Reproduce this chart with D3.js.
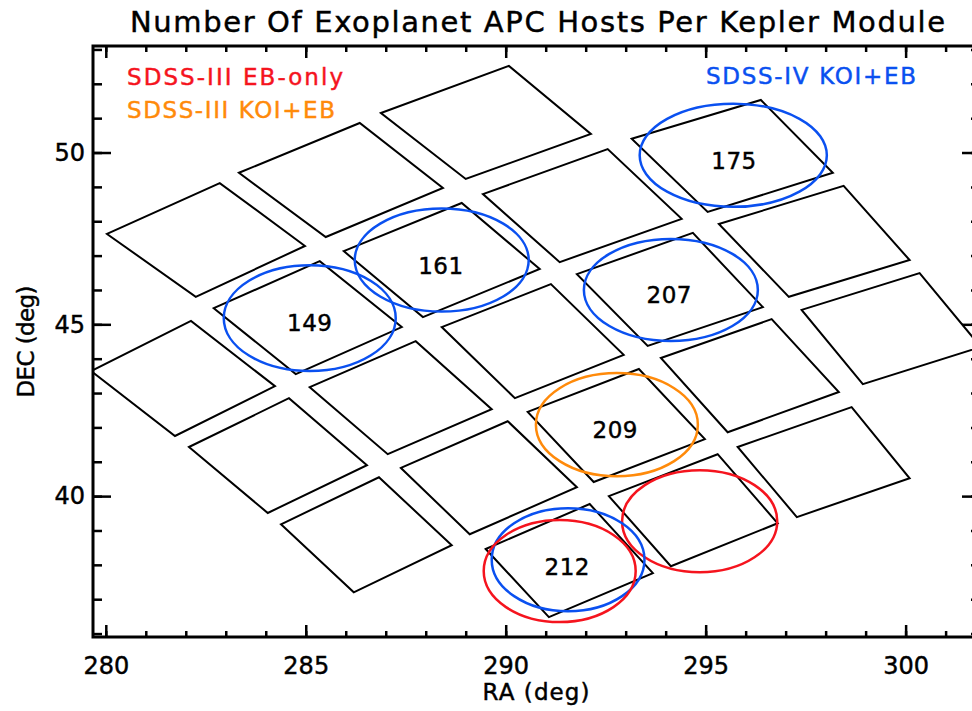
<!DOCTYPE html>
<html>
<head>
<meta charset="utf-8">
<script src="https://cdn.jsdelivr.net/npm/d3@7"></script>
<style>
  body { margin: 0; background: #fff; }
  text { font-family: "DejaVu Sans", sans-serif; fill: #000; stroke-width: 0.45; }
  .tick line { stroke: #000; stroke-width: 2.5; }
  .domain { display: none; }
</style>
</head>
<body>
<svg id="chart" width="972" height="711"></svg>
<script>
// Kepler module outlines: four corners each (left, top, right, bottom), RA / Dec in degrees
var moduleRA = [
  [280.03, 282.85, 284.98, 282.25],
  [283.33, 286.35, 288.43, 285.50],
  [286.88, 290.08, 292.13, 289.00],
  [279.63, 282.13, 284.23, 281.73],
  [282.70, 285.35, 287.40, 284.75],
  [285.95, 288.90, 290.85, 287.93],
  [289.43, 292.55, 294.40, 291.35],
  [293.15, 296.38, 298.18, 295.05],
  [282.08, 284.58, 286.53, 284.05],
  [285.10, 287.75, 289.65, 287.05],
  [288.40, 291.13, 292.95, 290.23],
  [291.78, 294.68, 296.43, 293.55],
  [295.33, 298.45, 300.10, 297.08],
  [284.38, 286.83, 288.65, 286.20],
  [287.38, 290.05, 291.78, 289.10],
  [290.55, 293.33, 294.98, 292.20],
  [293.88, 296.65, 298.33, 295.55],
  [297.40, 300.35, 301.88, 298.93],
  [289.50, 292.10, 293.68, 291.08],
  [292.58, 295.30, 296.80, 294.13],
  [295.80, 298.65, 300.10, 297.28]
];
var moduleDec = [
  [47.63, 49.11, 47.28, 45.80],
  [49.41, 50.86, 48.97, 47.54],
  [51.15, 52.52, 50.54, 49.23],
  [43.64, 45.10, 43.20, 41.75],
  [45.47, 46.84, 44.92, 43.55],
  [47.13, 48.53, 46.61, 45.21],
  [48.79, 50.10, 48.07, 46.81],
  [50.40, 51.53, 49.41, 48.27],
  [41.43, 42.85, 40.90, 39.51],
  [43.17, 44.51, 42.53, 41.22],
  [44.92, 46.17, 44.11, 42.85],
  [46.46, 47.66, 45.50, 44.37],
  [47.92, 49.03, 46.87, 45.80],
  [39.18, 40.55, 38.57, 37.20],
  [40.82, 42.18, 40.26, 38.89],
  [42.45, 43.70, 41.66, 40.41],
  [44.02, 45.15, 43.03, 41.86],
  [45.42, 46.49, 44.34, 43.26],
  [38.46, 39.77, 37.76, 36.48],
  [40.00, 41.22, 39.21, 37.96],
  [41.43, 42.59, 40.52, 39.39]
];

// survey fields drawn as ellipses (centre and semi-axes in degrees)
var fieldSurvey = ["IV", "IV", "IV", "IV", "III-KOI", "III-EB", "IV", "III-EB"];
var fieldRA     = [285.10, 288.40, 295.69, 294.13, 292.78, 294.85, 291.56, 291.35];
var fieldDec    = [45.18, 46.87, 49.92, 46.00, 42.08, 39.27, 38.15, 37.82];
var fieldRadRA  = [2.15, 2.175, 2.34, 2.175, 2.025, 1.94, 1.91, 1.90];
var fieldRadDec = [1.54, 1.50, 1.50, 1.485, 1.50, 1.485, 1.50, 1.485];

// host counts per module
var hostCounts = [149, 161, 175, 207, 209, 212];
var countRA    = [285.10, 288.38, 295.71, 294.09, 292.74, 291.54];
var countDec   = [45.04, 46.71, 49.76, 45.85, 41.92, 37.95];

var legendNames = ["SDSS-III EB-only", "SDSS-III KOI+EB", "SDSS-IV KOI+EB"];
var legendKeys  = ["III-EB", "III-KOI", "IV"];

var xMajorTicks = [280, 285, 290, 295, 300];
var yMajorTicks = [40, 45, 50];

var surveyColor = { "III-EB": "#f5141e", "III-KOI": "#ff8a0a", "IV": "#0a50f0" };

var plot = { left: 93, right: 980, top: 46, bottom: 637 };

var svg = d3.select("#chart");

var x = d3.scaleLinear().domain([279.68, 301.86]).range([plot.left, plot.right]);
var y = d3.scaleLinear().domain([35.9, 53.1]).range([plot.bottom, plot.top]);

svg.append("rect").attr("width", 972).attr("height", 711).attr("fill", "#fff");

svg.append("clipPath").attr("id", "clip")
  .append("rect")
    .attr("x", plot.left).attr("y", plot.top)
    .attr("width", plot.right - plot.left).attr("height", plot.bottom - plot.top);

var inner = svg.append("g").attr("clip-path", "url(#clip)");

// modules
var line = d3.line().x(function(d) { return x(d[0]); }).y(function(d) { return y(d[1]); });
var modules = moduleRA.map(function(ras, i) {
  return ras.map(function(ra, j) { return [ra, moduleDec[i][j]]; });
});
inner.selectAll("path.module").data(modules)
  .enter().append("path")
    .attr("class", "module")
    .attr("d", function(d) { return line(d) + "Z"; })
    .attr("fill", "none")
    .attr("stroke", "#000")
    .attr("stroke-width", 2)
    .attr("stroke-linejoin", "miter");

// host counts
svg.selectAll("text.count").data(hostCounts)
  .enter().append("text")
    .attr("class", "count")
    .attr("x", function(d, i) { return x(countRA[i]); })
    .attr("y", function(d, i) { return y(countDec[i]); })
    .attr("dy", "0.36em")
    .attr("text-anchor", "middle")
    .attr("font-size", 23)
    .attr("letter-spacing", 0.5)
    .style("stroke", "#000")
    .text(function(d) { return d; });

// survey ellipses
inner.selectAll("ellipse.field").data(fieldRA)
  .enter().append("ellipse")
    .attr("class", "field")
    .attr("cx", function(d) { return x(d); })
    .attr("cy", function(d, i) { return y(fieldDec[i]); })
    .attr("rx", function(d, i) { return x(d + fieldRadRA[i]) - x(d); })
    .attr("ry", function(d, i) { return y(fieldDec[i]) - y(fieldDec[i] + fieldRadDec[i]); })
    .attr("fill", "none")
    .attr("stroke", function(d, i) { return surveyColor[fieldSurvey[i]]; })
    .attr("stroke-width", 2.5);

// axes, ticks pointing inward on all four sides
function addAxis(axis, tx, ty) {
  return svg.append("g").attr("transform", "translate(" + tx + "," + ty + ")").call(axis);
}
var xMinor = d3.range(280, 302, 1), yMinor = d3.range(36, 54, 1);

addAxis(d3.axisBottom(x).tickValues(xMinor).tickSize(-6).tickFormat(""), 0, plot.bottom);
addAxis(d3.axisBottom(x).tickValues(xMajorTicks).tickSize(-12).tickPadding(20)
  .tickFormat(d3.format("d")), 0, plot.bottom)
  .selectAll("text").attr("font-size", 24).attr("fill", "#000").style("stroke", "#000");
addAxis(d3.axisTop(x).tickValues(xMinor).tickSize(-6).tickFormat(""), 0, plot.top);
addAxis(d3.axisTop(x).tickValues(xMajorTicks).tickSize(-12).tickFormat(""), 0, plot.top);

addAxis(d3.axisLeft(y).tickValues(yMinor).tickSize(-9).tickFormat(""), plot.left, 0);
addAxis(d3.axisLeft(y).tickValues(yMajorTicks).tickSize(-18).tickPadding(8)
  .tickFormat(d3.format("d")), plot.left, 0)
  .selectAll("text").attr("font-size", 24).attr("fill", "#000").style("stroke", "#000");
addAxis(d3.axisRight(y).tickValues(yMinor).tickSize(-9).tickFormat(""), plot.right, 0);
addAxis(d3.axisRight(y).tickValues(yMajorTicks).tickSize(-18).tickFormat(""), plot.right, 0);

svg.append("rect")
  .attr("x", plot.left).attr("y", plot.top)
  .attr("width", plot.right - plot.left).attr("height", plot.bottom - plot.top)
  .attr("fill", "none").attr("stroke", "#000").attr("stroke-width", 3);

// titles
svg.append("text")
  .attr("x", 537.5).attr("y", 32)
  .attr("text-anchor", "middle")
  .attr("font-size", 29)
  .attr("textLength", 815).attr("lengthAdjust", "spacing")
  .style("stroke", "#000")
  .text("Number Of Exoplanet APC Hosts Per Kepler Module");

svg.append("text")
  .attr("x", 536).attr("y", 700)
  .attr("text-anchor", "middle")
  .attr("font-size", 23)
  .attr("textLength", 107).attr("lengthAdjust", "spacing")
  .style("stroke", "#000")
  .text("RA (deg)");

svg.append("text")
  .attr("transform", "translate(34," + ((plot.top + plot.bottom) / 2) + ") rotate(-90)")
  .attr("text-anchor", "middle")
  .attr("font-size", 23)
  .attr("textLength", 112).attr("lengthAdjust", "spacing")
  .style("stroke", "#000")
  .text("DEC (deg)");

// legend
var legendX = [127, 127, 706], legendY = [85, 118, 84], legendW = [216, 208, 210];
svg.selectAll("text.legend").data(legendNames)
  .enter().append("text")
    .attr("class", "legend")
    .attr("x", function(d, i) { return legendX[i]; })
    .attr("y", function(d, i) { return legendY[i]; })
    .attr("font-size", 23)
    .attr("textLength", function(d, i) { return legendW[i]; })
    .attr("lengthAdjust", "spacing")
    .style("fill", function(d, i) { return surveyColor[legendKeys[i]]; })
    .style("stroke", function(d, i) { return surveyColor[legendKeys[i]]; })
    .text(function(d) { return d; });
</script>
</body>
</html>
